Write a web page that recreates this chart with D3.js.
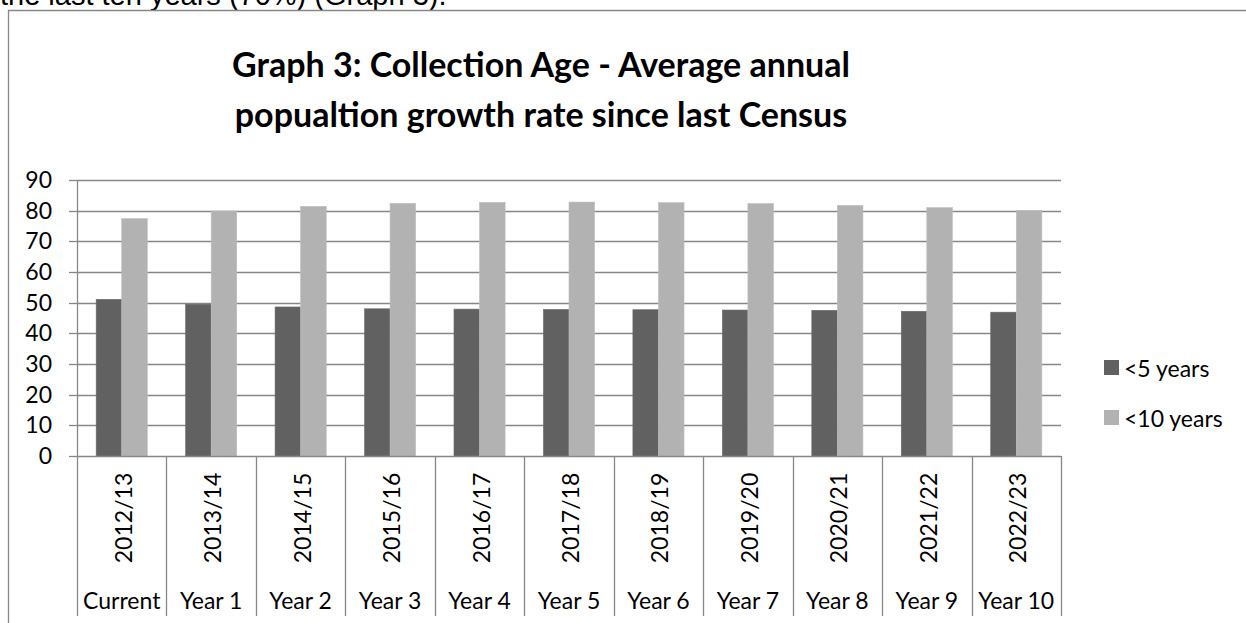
<!DOCTYPE html>
<html>
<head>
<meta charset="utf-8">
<script src="https://cdn.jsdelivr.net/npm/d3@7/dist/d3.min.js"></script>
<style>
  html, body { margin: 0; padding: 0; background: #fff; }
  svg { display: block; }
</style>
</head>
<body>
<svg id="chart" width="1246" height="623"></svg>
<script>
// ---- data ----
const years = ["2012/13","2013/14","2014/15","2015/16","2016/17","2017/18","2018/19","2019/20","2020/21","2021/22","2022/23"];
const periods = ["Current","Year 1","Year 2","Year 3","Year 4","Year 5","Year 6","Year 7","Year 8","Year 9","Year 10"];
const under5 = [51.1, 49.5, 48.6, 48.0, 47.9, 47.8, 47.7, 47.6, 47.5, 47.2, 46.9];
const under10 = [77.4, 79.9, 81.4, 82.4, 82.7, 82.8, 82.6, 82.3, 81.7, 81.0, 80.1];
const seriesNames = ["<5 years", "<10 years"];
const yTicks = [0,10,20,30,40,50,60,70,80,90];
const titleLines = ["Graph 3: Collection Age - Average annual", "popualtion growth rate since last Census"];
const pageText = "the last ten years (70%) (Graph 3).";

(function () {
// ---- layout ----
const svg = d3.select("#chart");
const colors = ["#616161", "#b2b2b2"];
const gridColor = "#878787";
const font = "Lato, 'Noto Sans', sans-serif";
const plotLeft = 77, plotRight = 1061, plotBottom = 456, plotTop = 180;

const x = d3.scaleBand().domain(years).range([plotLeft, plotRight]).padding(0);
const y = d3.scaleLinear().domain([0, 90]).range([plotBottom, plotTop]);
const bw = x.bandwidth() / 3.5;

// text of page above chart (cut off at top edge, as in the reference)
svg.append("text").attr("x", 0).attr("y", 5)
  .attr("font-family", "'Liberation Sans', Arial, sans-serif").attr("font-size", 29)
  .attr("fill", "#000").text(pageText);

// chart frame
svg.append("path").attr("d", "M8.5,623 V10.5 H1246")
  .attr("fill", "none").attr("stroke", gridColor).attr("stroke-width", 1.3);

// title
svg.selectAll("text.title").data(titleLines).enter().append("text")
  .attr("class", "title")
  .attr("x", 541).attr("y", (d, i) => 77 + i * 50)
  .attr("text-anchor", "middle")
  .attr("font-family", font).attr("font-weight", "bold").attr("font-size", 34)
  .attr("fill", "#000").text(d => d);

// gridlines
svg.append("g").selectAll("line").data(yTicks.filter(t => t > 0)).enter().append("line")
  .attr("x1", plotLeft).attr("x2", plotRight)
  .attr("y1", d => Math.round(y(d)) + 0.5).attr("y2", d => Math.round(y(d)) + 0.5)
  .attr("stroke", gridColor).attr("stroke-width", 1.3);

// y axis
const yAxis = svg.append("g").attr("transform", `translate(${plotLeft},0)`)
  .call(d3.axisLeft(y).tickValues(yTicks).tickSize(8).tickPadding(17).tickSizeOuter(0));
yAxis.select(".domain").remove();
yAxis.selectAll(".tick line").attr("stroke", gridColor).attr("stroke-width", 1.3);
yAxis.selectAll(".tick text").attr("font-family", font).attr("font-size", 23).attr("fill", "#000");
yAxis.selectAll(".tick").attr("transform", d => `translate(0,${Math.round(y(d)) + 0.5})`);
svg.append("line").attr("x1", plotLeft + 0.5).attr("x2", plotLeft + 0.5).attr("y1", plotTop).attr("y2", 616)
  .attr("stroke", gridColor).attr("stroke-width", 1.3);

// bars
const bars = svg.append("g");
[under5, under10].forEach((vals, si) => {
  bars.selectAll(null).data(years).enter().append("rect")
    .attr("x", d => x(d) + bw * (0.75 + si))
    .attr("width", bw)
    .attr("y", (d, i) => y(vals[i]))
    .attr("height", (d, i) => plotBottom - y(vals[i]))
    .attr("fill", colors[si])
    .attr("stroke", si === 0 ? "#6b6b6b" : "#bdbdbd").attr("stroke-width", 0.6);
});

// x axis line
svg.append("line").attr("x1", plotLeft).attr("x2", plotRight)
  .attr("y1", plotBottom + 0.5).attr("y2", plotBottom + 0.5)
  .attr("stroke", gridColor).attr("stroke-width", 1.3);

// category boundaries
const bounds = years.map(d => x(d)).concat([plotRight]).slice(1);
svg.append("g").selectAll("line").data(bounds).enter().append("line")
  .attr("x1", d => Math.round(d) + 0.5).attr("x2", d => Math.round(d) + 0.5)
  .attr("y1", plotBottom).attr("y2", 616)
  .attr("stroke", gridColor).attr("stroke-width", 1.3);

// rotated year labels
svg.append("g").selectAll("text").data(years).enter().append("text")
  .attr("transform", d => `translate(${x(d) + x.bandwidth() / 2 + 1},518) rotate(-90)`)
  .attr("text-anchor", "middle").attr("dominant-baseline", "central")
  .attr("font-family", font).attr("font-size", 23).attr("fill", "#000")
  .text(d => d);

// period labels
svg.append("g").selectAll("text").data(periods).enter().append("text")
  .attr("x", (d, i) => x(years[i]) + x.bandwidth() / 2)
  .attr("y", 609)
  .attr("text-anchor", "middle")
  .attr("font-family", font).attr("font-size", 23).attr("fill", "#000")
  .text(d => d);

// legend
const lg = svg.append("g").selectAll("g").data(seriesNames).enter().append("g")
  .attr("transform", (d, i) => `translate(1104,${360 + i * 50})`);
lg.append("rect").attr("width", 15).attr("height", 15).attr("fill", (d, i) => colors[i]);
lg.append("text").attr("x", 20).attr("y", 8).attr("dominant-baseline", "central")
  .attr("font-family", font).attr("font-size", 23).attr("fill", "#000").text(d => d);
})();
</script>
</body>
</html>
